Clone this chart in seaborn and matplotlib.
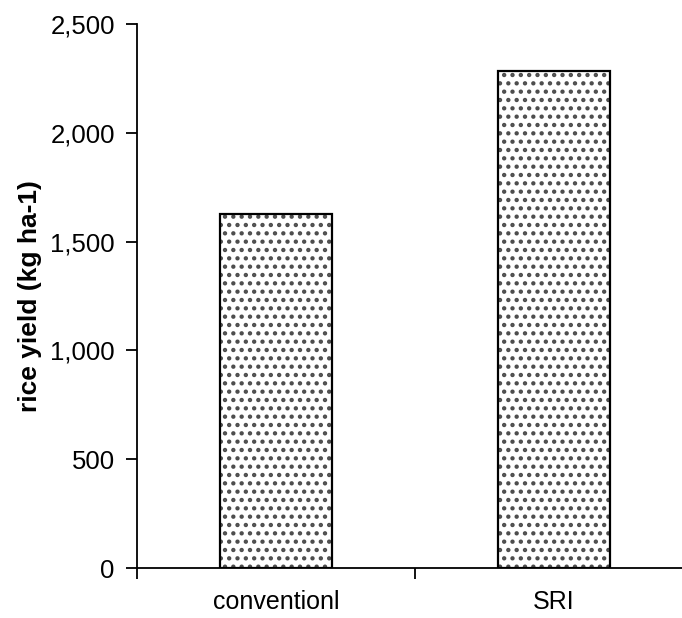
import matplotlib
matplotlib.use("Agg")
import matplotlib.pyplot as plt
import matplotlib.ticker as mticker
import pandas as pd
import seaborn as sns

# Data
systems = ['conventionl', 'SRI']
yields = [1628, 2286]
y_ticks = [0, 500, 1000, 1500, 2000, 2500]

df = pd.DataFrame({'system': systems, 'yield': yields})

sns.set_style('white')
plt.rcParams['font.family'] = ['Liberation Sans', 'DejaVu Sans']
plt.rcParams['hatch.linewidth'] = 1.9
plt.rcParams['text.color'] = 'black'
plt.rcParams['axes.labelcolor'] = 'black'
plt.rcParams['xtick.color'] = 'black'
plt.rcParams['ytick.color'] = 'black'

fig = plt.figure(figsize=(6.82, 6.18), dpi=100)
ax = fig.add_axes([0.2009, 0.0809, 0.8151, 0.8801])

# dotted fill, then black outline on top
sns.barplot(data=df, x='system', y='yield', color='white', width=0.4,
            edgecolor='#4d4d4d', linewidth=0, hatch='..', ax=ax)
sns.barplot(data=df, x='system', y='yield', fill=False, width=0.4,
            edgecolor='black', linewidth=1.6, ax=ax)

ax.set_xlim(-0.5, 1.5)
ax.set_ylim(0, 2500)
ax.set_yticks(y_ticks)
ax.yaxis.set_major_formatter(mticker.FuncFormatter(lambda v, p: f'{int(v):,}'))

# x ticks sit between categories
ax.set_xticks([0, 1])
ax.set_xticklabels(systems)
ax.xaxis.set_minor_locator(mticker.FixedLocator([-0.5, 0.5, 1.5]))
ax.tick_params(axis='x', which='major', length=0, pad=16, labelsize=18)
ax.tick_params(axis='x', which='minor', length=8, width=1.3, direction='out',
               bottom=True, color='black')
ax.tick_params(axis='y', length=8, width=1.3, direction='out', left=True,
               labelsize=18.5, pad=8, color='black')

for side in ['top', 'right']:
    ax.spines[side].set_visible(False)
for side in ['left', 'bottom']:
    ax.spines[side].set_color('black')
    ax.spines[side].set_linewidth(1.3)

ax.set_xlabel('')
ax.set_ylabel('rice yield (kg ha-1)', fontsize=19, fontweight='bold', labelpad=6)

fig.savefig('out.png', dpi=100)
